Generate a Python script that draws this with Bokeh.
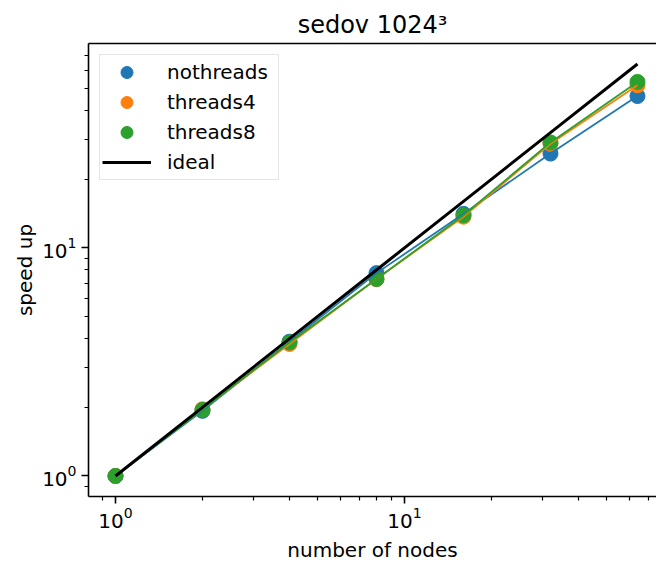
from bokeh.plotting import figure
from bokeh.models import FixedTicker, LogAxis, Legend, LegendItem, ColumnDataSource
from bokeh.embed import file_html
from bokeh.resources import INLINE

nodes = [1, 2, 4, 8, 16, 32, 64]
nothreads = [1.0, 1.93, 3.88, 7.75, 14.1, 25.9, 46.3]
threads4 = [1.0, 1.96, 3.79, 7.3, 13.7, 28.6, 51.6]
threads8 = [1.0, 1.95, 3.85, 7.3, 13.9, 29.0, 53.4]
ideal = [1, 2, 4, 8, 16, 32, 64]

series_names = ["nothreads", "threads4", "threads8"]
series_colors = ["#1f77b4", "#ff7f0e", "#2ca02c"]
major_ticks = [1, 10]
minor_ticks = [0.9, 2, 3, 4, 5, 6, 7, 8, 9, 20, 30, 40, 50, 60, 70]

FONT = "DejaVu Sans"

p = figure(width=656, height=564, x_axis_type="log", y_axis_type="log",
           x_range=(10 ** -0.0934, 10 ** 1.872), y_range=(10 ** -0.09, 10 ** 1.896),
           output_backend="svg", toolbar_location=None,
           min_border_left=88, min_border_right=0, min_border_top=43, min_border_bottom=67,
           title="sedov 1024³")
p.outline_line_color = None
p.grid.visible = False
p.background_fill_color = "white"
p.border_fill_color = "white"

p.title.align = "center"
p.title.text_font = FONT
p.title.text_font_size = "24px"
p.title.text_font_style = "normal"
p.title.text_color = "black"
p.title.standoff = 10

for ax in (p.xaxis[0], p.yaxis[0]):
    ax.ticker = FixedTicker(ticks=major_ticks, minor_ticks=minor_ticks)
    ax.major_label_text_font = FONT
    ax.major_label_text_font_size = "20px"
    ax.major_label_text_color = "black"
    ax.axis_label_text_font = FONT
    ax.axis_label_text_font_size = "20px"
    ax.axis_label_text_font_style = "normal"
    ax.axis_label_text_color = "black"
    ax.axis_line_color = "black"
    ax.axis_line_width = 1.6
    ax.major_tick_line_color = "black"
    ax.minor_tick_line_color = "black"
    ax.major_tick_line_width = 1.6
    ax.minor_tick_line_width = 1.2
    ax.major_tick_in = 0
    ax.major_tick_out = 7
    ax.minor_tick_in = 0
    ax.minor_tick_out = 4
    ax.major_label_standoff = 5

p.xaxis.axis_label = "number of nodes"
p.yaxis.axis_label = "speed up"
p.xaxis.major_label_standoff = 3
p.xaxis.axis_label_standoff = 7
p.yaxis.axis_label_standoff = 2

top = LogAxis(ticker=FixedTicker(ticks=[]), major_label_text_font_size="0px",
              major_tick_out=0, minor_tick_out=0, major_tick_in=0, minor_tick_in=0,
              major_label_standoff=0, axis_line_color="black", axis_line_width=1.6)
p.add_layout(top, "above")

src = ColumnDataSource(dict(nodes=nodes, nothreads=nothreads, threads4=threads4,
                            threads8=threads8, ideal=ideal))

scatters = []
for name, col in zip(series_names, series_colors):
    r = p.scatter("nodes", name, source=src, size=15, fill_color=col, line_color=col)
    scatters.append(r)
for name, col in zip(series_names, series_colors):
    p.line("nodes", name, source=src, line_color=col, line_width=1.8)
ideal_r = p.line("nodes", "ideal", source=src, line_color="black", line_width=3)

items = [LegendItem(label=n, renderers=[r]) for n, r in zip(series_names, scatters)]
items.append(LegendItem(label="ideal", renderers=[ideal_r]))
legend = Legend(items=items, location="top_left", margin=11, padding=2,
                glyph_width=49, glyph_height=30, label_height=20, spacing=0,
                label_standoff=16, label_width=109,
                label_text_font=FONT, label_text_font_size="20px", label_text_color="black",
                border_line_color="#cccccc", border_line_width=1.5,
                background_fill_color="white", background_fill_alpha=0.8)
p.add_layout(legend, "center")

open("out.html", "w").write(file_html(p, INLINE))
